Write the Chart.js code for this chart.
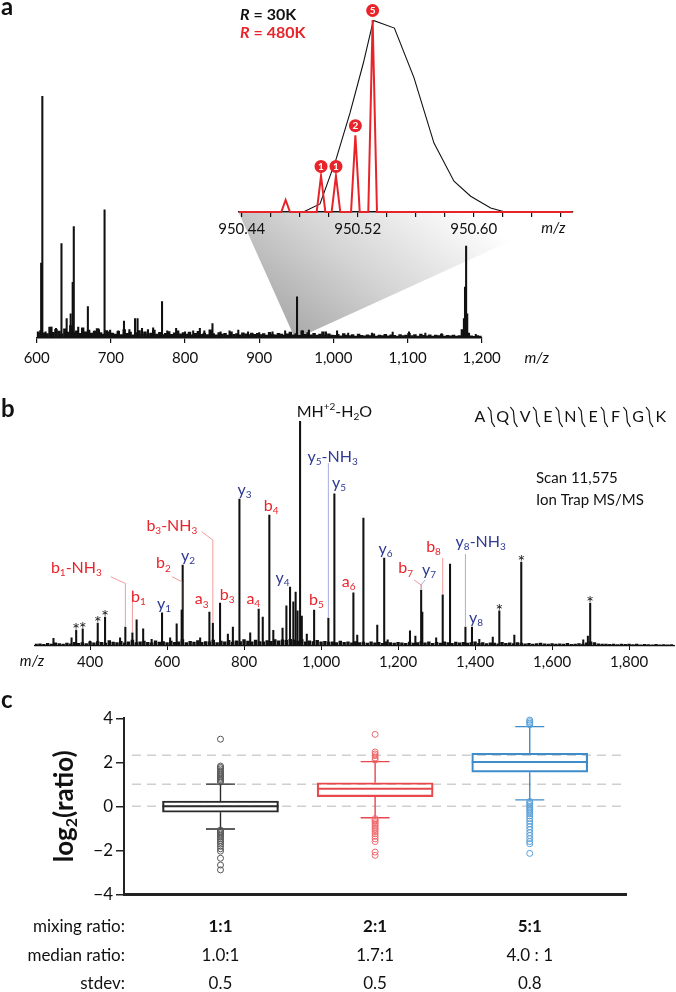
<!DOCTYPE html>
<html>
<head>
<meta charset="utf-8">
<script src="https://cdn.jsdelivr.net/npm/chart.js@4.4.1/dist/chart.umd.min.js"></script>
<style>
  body { margin: 0; background: #fff; width: 676px; height: 992px; position: relative; overflow: hidden; }
  .box { position: absolute; left: 0; }
  .tag { position: absolute; font: bold 24px Lato, sans-serif; line-height: 24px; color: #111; }
</style>
</head>
<body>
<div class="box" id="wrapA" style="top:0;width:676px;height:375px"><canvas id="specA"></canvas></div>
<div class="box" id="wrapI" style="left:200px;top:0;width:400px;height:240px"><canvas id="inset"></canvas></div>
<div class="box" id="wrapB" style="top:385px;width:676px;height:300px"><canvas id="msms"></canvas></div>
<div class="box" id="wrapC" style="top:680px;width:676px;height:312px"><canvas id="boxes"></canvas></div>
<div class="tag" style="left:1px;top:-6px">a</div>
<div class="tag" style="left:1px;top:396px">b</div>
<div class="tag" style="left:1px;top:687px">c</div>
<script>
// ---------- panel a: full scan ----------
const peaksA_mz = [606, 607.6, 612, 620, 626, 633.4, 640.4, 645.8, 648.5, 650, 656, 662, 669, 678, 684, 691.5, 699,
  710, 717.7, 725, 732.6, 736, 742, 750, 757, 769, 776, 788, 800, 811, 820, 826, 837, 848, 860, 871.8, 885, 900,
  918, 935, 951, 958, 967, 990, 1005, 1020, 1052, 1080, 1102, 1124, 1146, 1176, 1177.5, 1179, 1180.5, 1192];
const peaksA_int = [31, 100, 2.5, 4.5, 4, 39, 8, 10, 23, 46, 4.5, 3.5, 13, 3, 3.5, 53, 3.3,
  3, 7, 3.5, 8, 8, 4, 3.5, 4.2, 15, 3, 4, 2.5, 3, 4, 3, 6, 2.5, 3, 3.3, 2.5, 2.2,
  2.5, 3, 17, 3, 3.3, 2.5, 3, 2, 2, 2.4, 2.5, 2, 1.8, 8, 21, 38, 10, 1.5];

const grassA_mz = [602,606,610,614,618,622,626,630,634,638,642,646,650,654,658,662,666,670,674,678,682,686,690,694,698,
  702,706,710,714,718,722,726,730,734,738,742,746,750,754,758,762,766,770,774,778,782,786,790,794,798,
  802,806,810,814,818,822,826,830,834,838,842,846,850,854,858,862,866,870,874,878,882,886,890,894,898,
  902,906,910,914,918,922,926,930,934,938,942,946,950,954,958,962,966,970,974,978,982,986,990,994,998,
  1002,1006,1010,1014,1018,1022,1026,1030,1034,1038,1042,1046,1050,1054,1058,1062,1066,1070,1074,1078,1082,1086,1090,1094,1098,
  1102,1106,1110,1114,1118,1122,1126,1130,1134,1138,1142,1146,1150,1154,1158,1162,1166,1170,1174,1178,1182,1186,1190,1194,1198];
const grassA_int = [2.5,3.2,2.1,1.8,4.5,2.3,3.6,2.9,1.7,3.8,2.4,5.1,2.2,3.0,1.9,4.2,2.6,3.3,2.0,2.8,3.9,2.2,1.6,3.1,2.5,
  2.0,1.6,2.8,1.4,3.5,1.9,2.4,1.3,2.2,3.1,1.7,2.6,1.5,2.0,3.3,1.6,2.3,1.4,1.9,2.7,1.5,2.1,3.0,1.7,2.2,
  1.6,2.4,1.3,1.9,2.8,1.5,2.0,1.4,3.4,1.8,1.3,2.2,1.6,1.9,1.2,2.5,1.5,1.8,1.3,2.1,1.7,1.4,2.0,1.5,1.9,
  1.4,1.8,1.2,2.3,1.5,1.3,1.9,1.6,1.2,1.7,2.4,1.3,1.8,1.1,3.0,1.5,2.2,1.3,1.9,1.2,1.6,2.6,1.3,1.7,1.2,
  1.1,1.5,0.9,1.8,1.2,1.0,1.4,0.8,1.6,1.1,0.9,1.3,1.0,1.7,0.8,1.2,1.0,1.5,0.9,1.3,1.1,0.8,1.4,1.0,1.2,
  1.9,1.0,1.4,0.8,1.6,1.1,0.9,1.3,0.8,1.2,1.0,1.5,0.8,1.1,0.9,1.2,0.8,1.0,3.5,5.0,2.0,0.9,0.7,1.0,0.8];
const zoomWindow = [948, 952];

// ---------- panel a inset ----------
const redMz = [950.4703, 950.4947, 950.505, 950.5184, 950.5303];
const redInt = [6.3, 18.8, 18.8, 40, 100];
const redLabels = ['', '1', '1', '2', '5'];
const profileMz = [950.4825, 950.494, 950.505, 950.5147, 950.5239, 950.5308, 950.5453, 950.5588, 950.5726, 950.5864, 950.5979, 950.6117, 950.6217];
const profileInt = [0, 4.2, 27.3, 51.6, 77.6, 99.8, 95.8, 70, 35.9, 16, 8.2, 2.1, 0];
const insetTicks = [950.44, 950.46, 950.48, 950.50, 950.52, 950.54, 950.56, 950.58, 950.60, 950.62, 950.64, 950.66];
const insetTickLabels = [950.44, 950.52, 950.60];

// ---------- panel b: MS/MS ----------
const peaksB_mz = [305, 352, 364, 381, 400, 420, 439, 478, 491.7, 510, 521, 538, 560, 587, 608, 625, 638, 640.6, 686,
  710, 719, 737.7, 758, 771, 788, 816, 838, 848.6, 865.7, 876, 900, 910, 919.5, 928, 934, 939, 945.5, 950, 963, 982,
  1019, 1034.6, 1084, 1094, 1110, 1146, 1164, 1173, 1231, 1245, 1260, 1263, 1299, 1316, 1335, 1375, 1392, 1411,
  1446, 1463, 1502, 1520, 1681, 1693, 1699];
const peaksB_int = [3.4, 3.6, 7.1, 7.6, 2.2, 10.2, 12.9, 3.6, 8.4, 5.8, 11.6, 7.6, 3, 14.7, 3.6, 9.8, 16, 36, 3.6,
  15.1, 10.2, 19.1, 5.3, 8.4, 65.3, 5.8, 16.4, 12.9, 58.2, 7, 8, 17.8, 26.2, 19.6, 24, 15.6, 100, 13.3, 5.3, 16,
  12.4, 67.6, 23.6, 4.9, 56.9, 9.3, 39.1, 2.7, 6.7, 4.4, 24.9, 15.1, 3.6, 22.7, 36.4, 8.4, 8.4, 3,
  4, 15.6, 4.9, 37.3, 2.7, 4.4, 19.1];
const grassB_mz = [260,270,280,290,300,310,320,330,340,350,360,370,380,390,400,
  410,420,430,440,450,460,470,480,490,500,510,520,530,540,550,560,570,580,590,600,
  610,620,630,640,650,660,670,680,690,700,710,720,730,740,750,760,770,780,790,800,
  810,820,830,840,850,860,870,880,890,900,910,920,930,940,950,960,970,980,990,1000,
  1010,1020,1030,1040,1050,1060,1070,1080,1090,1100,1110,1120,1130,1140,1150,1160,1170,1180,1190,1200,
  1210,1220,1230,1240,1250,1260,1270,1280,1290,1300,1310,1320,1330,1340,1350,1360,1370,1380,1390,1400,
  1410,1420,1430,1440,1450,1460,1470,1480,1490,1500,1510,1520,1530,1540,1550,1560,1570,1580,1590,1600,
  1610,1620,1630,1640,1650,1660,1670,1680,1690,1700,1710,1720,1730,1740,1750,1760,1770,1780,1790,1800,
  1810,1820,1830,1840,1850,1860,1870,1880,1890,1900,1910];
const grassB_int = [0.8,1.0,0.7,1.2,0.9,1.4,1.1,0.8,1.3,1.0,1.6,1.2,1.5,1.1,1.8,
  1.4,2.0,1.6,1.3,2.4,1.7,1.5,2.1,1.4,1.9,2.6,1.5,1.8,2.2,1.6,1.4,2.3,1.7,2.0,1.5,
  2.2,1.6,1.9,2.8,1.5,2.1,1.7,2.4,1.6,2.0,1.8,2.6,1.5,2.2,1.9,2.5,1.7,2.3,2.0,2.8,
  2.2,1.9,2.6,2.0,1.8,2.4,2.1,2.9,2.3,2.7,2.5,3.0,2.6,2.2,2.8,1.9,2.3,2.0,2.5,1.8,
  2.1,1.7,1.9,1.5,2.2,1.6,1.8,1.4,2.0,1.5,1.7,1.3,1.9,1.4,1.6,1.2,1.8,1.5,1.3,1.6,
  1.4,1.2,1.7,1.3,1.5,2.0,1.4,1.8,1.2,1.6,1.3,1.9,1.5,1.2,1.7,1.4,1.6,1.3,1.5,1.8,
  1.2,1.5,1.1,1.4,1.3,1.0,1.6,1.2,1.4,1.1,1.5,1.3,1.0,1.2,0.9,1.1,1.3,1.0,0.8,1.1,
  0.9,1.0,0.8,1.2,0.7,0.9,1.1,0.8,1.4,1.9,1.5,1.0,0.8,0.9,0.7,0.8,0.6,0.9,0.7,0.8,
  0.6,0.8,0.5,0.7,0.6,0.5,0.7,0.5,0.6,0.5,0.6];
const tickB = [400, 600, 800, 1000, 1200, 1400, 1600, 1800];
const starMz = [364, 381, 420, 439, 1463, 1520, 1699];
const ionLabels = [
  { t: 'b_1-NH_3', c: 'b', mz: 491.7 }, { t: 'b_1', c: 'b', mz: 510 }, { t: 'y_1', c: 'y', mz: 587 },
  { t: 'b_2', c: 'b', mz: 638 }, { t: 'y_2', c: 'y', mz: 640.6 }, { t: 'a_3', c: 'b', mz: 710 },
  { t: 'b_3-NH_3', c: 'b', mz: 719 }, { t: 'b_3', c: 'b', mz: 737.7 }, { t: 'y_3', c: 'y', mz: 788 },
  { t: 'a_4', c: 'b', mz: 838 }, { t: 'b_4', c: 'b', mz: 865.7 }, { t: 'y_4', c: 'y', mz: 919.5 },
  { t: 'MH^{+2}-H_2O', c: 'k', mz: 945.5 }, { t: 'b_5', c: 'b', mz: 982 }, { t: 'y_5-NH_3', c: 'y', mz: 1019 },
  { t: 'y_5', c: 'y', mz: 1034.6 }, { t: 'a_6', c: 'b', mz: 1084 }, { t: 'y_6', c: 'y', mz: 1164 },
  { t: 'b_7', c: 'b', mz: 1260 }, { t: 'y_7', c: 'y', mz: 1260 }, { t: 'b_8', c: 'b', mz: 1316 },
  { t: 'y_8-NH_3', c: 'y', mz: 1375 }, { t: 'y_8', c: 'y', mz: 1392 }
];
const sequence = ['A', 'Q', 'V', 'E', 'N', 'E', 'F', 'G', 'K'];
const scanText = ['Scan 11,575', 'Ion Trap MS/MS'];

// ---------- panel c: box plots ----------
const groups = ['1:1', '2:1', '5:1'];
const boxQ1 = [-0.27, 0.44, 1.55];
const boxMedian = [0, 0.8, 2.01];
const boxQ3 = [0.24, 1.07, 2.41];
const whiskerLow = [-1.03, -0.52, 0.29];
const whiskerHigh = [1.01, 2.03, 3.62];
const outliers1 = [3.05, 1.83, 1.77, 1.7, 1.62, 1.55, 1.48, 1.42, 1.35, 1.28, 1.22, 1.16, 1.1,
  -1.08, -1.14, -1.2, -1.26, -1.33, -1.4, -1.47, -1.55, -1.63, -1.72, -1.82, -1.93, -2.04, -2.36, -2.67, -2.89];
const outliers2 = [3.27, 2.47, 2.38, 2.3, 2.2, 2.1, -0.56, -0.62, -0.68, -0.75, -0.82, -0.9, -0.98, -1.06,
  -1.15, -1.25, -1.36, -1.48, -1.6, -2.08, -2.23];
const outliers3 = [3.92, 3.85, 3.78, 3.71, 0.22, 0.15, 0.08, 0.0, -0.08, -0.16, -0.25, -0.34, -0.44, -0.55,
  -0.67, -0.8, -0.93, -1.06, -1.2, -1.33, -1.47, -1.6, -1.7, -2.14];
const refLines = [0, 1, 2.32];
const medianRatios = ['1.0:1', '1.7:1', '4.0 : 1'];
const stdevs = ['0.5', '0.5', '0.8'];
const rowLabels = ['mixing ratio:', 'median ratio:', 'stdev:'];

// ---------- styling ----------
const FONT = "Lato, 'Open Sans', sans-serif";
const RED = '#e8242b';
const INK = { b: '#e8242b', y: '#2e3a93', k: '#111' };
const LEAD = { b: '#f39b9b', y: '#a7addb', k: '#999' };
const BOXCOL = ['#2a2a2a', '#e8474c', '#3f8ccb'];
const DOTCOL = ['#555', '#ee6a6e', '#5a9fd6'];

Chart.defaults.font.family = FONT;
Chart.defaults.color = '#111';

function baseOptions(padding) {
  return {
    responsive: true, maintainAspectRatio: false, animation: false, devicePixelRatio: 1, events: [],
    layout: { padding: padding },
    plugins: { legend: { display: false }, tooltip: { enabled: false } }
  };
}
function pairs(xs, ys) { return xs.map((x, i) => ({ x: x, y: ys[i] })); }

// tiny rich text: _x subscript, ^{..} superscript
function parseRich(s) {
  const segs = []; let buf = '', i = 0;
  while (i < s.length) {
    const ch = s[i];
    if (ch === '_' || ch === '^') {
      if (buf) { segs.push({ t: buf, k: 0 }); buf = ''; }
      let t;
      if (s[i + 1] === '{') { const j = s.indexOf('}', i); t = s.slice(i + 2, j); i = j + 1; }
      else { t = s[i + 1]; i += 2; }
      segs.push({ t: t, k: ch === '_' ? 1 : -1 });
    } else { buf += ch; i++; }
  }
  if (buf) segs.push({ t: buf, k: 0 });
  return segs;
}
function drawRich(ctx, s, x, y, size, align, weight) {
  const segs = parseRich(s), small = Math.round(size * 0.64), w0 = weight || '';
  let w = 0;
  segs.forEach(g => { ctx.font = w0 + ' ' + (g.k ? small : size) + 'px ' + FONT; g.w = ctx.measureText(g.t).width; w += g.w; });
  let cx = align === 'left' ? x : x - w / 2;
  ctx.textAlign = 'left'; ctx.textBaseline = 'middle';
  segs.forEach(g => {
    ctx.font = w0 + ' ' + (g.k ? small : size) + 'px ' + FONT;
    ctx.fillText(g.t, cx, y + (g.k === 1 ? size * 0.32 : g.k === -1 ? -size * 0.3 : 0));
    cx += g.w;
  });
}

// ---------- inset chart ----------
const RED_HALF_WIDTH = 0.003;
const redTrace = [{ x: 950.438, y: 0 }];
redMz.forEach((m, i) => {
  redTrace.push({ x: m - RED_HALF_WIDTH, y: 0 }, { x: m, y: redInt[i] }, { x: m + RED_HALF_WIDTH, y: 0 });
});
redTrace.push({ x: 950.668, y: 0 });

const insetNotes = {
  id: 'insetNotes',
  afterDatasetsDraw(chart) {
    const ctx = chart.ctx, xs = chart.scales.x, ys = chart.scales.y;
    ctx.save();
    redMz.forEach((m, i) => {
      if (!redLabels[i]) return;
      const x = xs.getPixelForValue(m), y = ys.getPixelForValue(redInt[i]) - 9.5;
      ctx.fillStyle = RED;
      ctx.beginPath(); ctx.arc(x, y, 6.5, 0, Math.PI * 2); ctx.fill();
      ctx.fillStyle = '#fff'; ctx.font = 'bold 10px ' + FONT;
      ctx.textAlign = 'center'; ctx.textBaseline = 'middle';
      ctx.fillText(redLabels[i], x, y + 0.5);
    });
    // resolution legend
    [['30K', '#111', 15], ['480K', RED, 33]].forEach(([v, col, y]) => {
      ctx.fillStyle = col; ctx.textAlign = 'left'; ctx.textBaseline = 'middle';
      ctx.font = 'italic bold 16px ' + FONT;
      ctx.fillText('R', 40, y);
      const w = ctx.measureText('R').width;
      ctx.font = 'bold 16px ' + FONT;
      ctx.fillText(' = ' + v, 40 + w, y);
    });
    ctx.fillStyle = '#111'; ctx.font = 'italic 15px ' + FONT;
    ctx.textAlign = 'center'; ctx.textBaseline = 'middle';
    ctx.fillText('m/z', xs.right - 19, chart.chartArea.bottom + 16);
    ctx.restore();
  }
};

const insetOpts = baseOptions({ left: 38.8, right: 27.7, top: 20, bottom: 4 });
insetOpts.scales = {
  x: {
    type: 'linear', min: 950.438, max: 950.668,
    afterBuildTicks: s => { s.ticks = insetTicks.map(v => ({ value: v })); },
    afterFit: s => { s.height = 24; },
    ticks: {
      autoSkip: false, maxRotation: 0, padding: 3, font: { size: 15 }, color: '#111',
      callback: v => insetTickLabels.some(l => Math.abs(l - v) < 1e-6) ? v.toFixed(2) : ''
    },
    grid: { drawOnChartArea: false, drawTicks: true, tickLength: 5, color: '#111', lineWidth: 1.2 },
    border: { display: true, color: '#111', width: 1.5 }
  },
  y: { display: false, min: 0, max: 100 }
};
const insetChart = new Chart(document.getElementById('inset'), {
  type: 'line',
  data: {
    datasets: [
      { data: redTrace, borderColor: RED, borderWidth: 2, pointRadius: 0, tension: 0, clip: false },
      { data: pairs(profileMz, profileInt), borderColor: '#111', borderWidth: 1.1, pointRadius: 0, tension: 0 }
    ]
  },
  options: insetOpts,
  plugins: [insetNotes]
});

// ---------- main spectrum (a) ----------
const wedge = {
  id: 'wedge',
  beforeDatasetsDraw(chart) {
    const ctx = chart.ctx, xs = chart.scales.x, ys = chart.scales.y;
    const ix = insetChart.scales.x;
    const wrapA = document.getElementById('wrapA'), wrapI = document.getElementById('wrapI');
    const dx = wrapI.offsetLeft - wrapA.offsetLeft, dy = wrapI.offsetTop - wrapA.offsetTop;
    const topY = dy + insetChart.chartArea.bottom + 1;
    const l = dx + ix.getPixelForValue(ix.min), r = dx + ix.getPixelForValue(ix.max);
    const b0 = xs.getPixelForValue(zoomWindow[0]), b1 = xs.getPixelForValue(zoomWindow[1]);
    const by = ys.getPixelForValue(0);
    const g = ctx.createLinearGradient(b0, by, b0 + 130, topY - 40);
    g.addColorStop(0, '#a9a9a9');
    g.addColorStop(0.45, '#d4d4d4');
    g.addColorStop(1, '#ffffff');
    ctx.save();
    ctx.fillStyle = g;
    ctx.beginPath();
    ctx.moveTo(l, topY); ctx.lineTo(r, topY); ctx.lineTo(b1, by); ctx.lineTo(b0, by);
    ctx.closePath(); ctx.fill();
    ctx.restore();
  },
  afterDraw(chart) {
    const ctx = chart.ctx;
    ctx.save();
    ctx.fillStyle = '#111'; ctx.font = 'italic 15px ' + FONT;
    ctx.textAlign = 'center'; ctx.textBaseline = 'middle';
    ctx.fillText('m/z', chart.scales.x.right + 55, chart.chartArea.bottom + 20);
    ctx.restore();
  }
};
const specOpts = baseOptions({ left: 36.7, right: 194.3, top: 96, bottom: 7 });
specOpts.scales = {
  x: {
    type: 'linear', min: 600, max: 1200, offset: false,
    afterFit: s => { s.height = 30; },
    ticks: { stepSize: 100, padding: 6, autoSkip: false, maxRotation: 0, font: { size: 15 }, color: '#111',
      callback: v => v.toLocaleString('en-US') },
    grid: { offset: false, drawOnChartArea: false, drawTicks: true, tickLength: 5, color: '#111', lineWidth: 1.2 },
    border: { display: true, color: '#111', width: 1.5 }
  },
  y: { display: false, min: 0, max: 100 }
};
new Chart(document.getElementById('specA'), {
  type: 'bar',
  data: {
    datasets: [
      { data: pairs(grassA_mz, grassA_int), backgroundColor: '#111', barThickness: 2.8, grouped: false },
      { data: pairs(peaksA_mz, peaksA_int), backgroundColor: '#111', barThickness: 1.4, grouped: false }
    ]
  },
  options: specOpts,
  plugins: [wedge]
});

// ---------- MS/MS spectrum (b) ----------
// label centre offsets from the peak top (px) and leader paths
const ionLayout = [
  { dx: -49, dy: -59, lead: [[-14.6, -50.3], [0, -43.7]] },
  { dx: 6, dy: -36, lead: [[0, -43]] },
  { dx: 2, dy: -9 },
  { dx: -18.3, dy: -46.7, lead: [[-9.6, -33.3], [0, -28.3]] },
  { dx: 5.3, dy: -9 },
  { dx: -7.7, dy: -12.7 },
  { dx: -41, dy: -97, lead: [[-11.1, -91.3], [0, -83]] },
  { dx: 7, dy: -8 },
  { dx: 5.2, dy: -9 },
  { dx: -5.4, dy: -10 },
  { dx: 1.7, dy: -9 },
  { dx: -7.5, dy: -9 },
  { dx: -3.4, dy: -9, align: 'left' },
  { dx: 2.2, dy: -10 },
  { dx: 4.3, dy: -161.3, lead: [[0, -155]] },
  { dx: 4.7, dy: -11 },
  { dx: -4.8, dy: -11.3 },
  { dx: 1.3, dy: -9 },
  { dx: -15.5, dy: -21.7, lead: [[-7.1, -10], [0, -5]] },
  { dx: 7.9, dy: -20, lead: [[3.9, -10], [0, -5]] },
  { dx: -9.2, dy: -48.3, lead: [[0, -37]] },
  { dx: 15.3, dy: -85.3, lead: [[0, -73]] },
  { dx: 4, dy: -9 }
];
const msmsNotes = {
  id: 'msmsNotes',
  afterDatasetsDraw(chart) {
    const ctx = chart.ctx, xs = chart.scales.x, ys = chart.scales.y;
    const peakAt = mz => {
      const i = peaksB_mz.indexOf(mz);
      return { x: xs.getPixelForValue(mz), y: ys.getPixelForValue(peaksB_int[i]) };
    };
    ctx.save();
    ctx.lineWidth = 1;
    ionLabels.forEach((lab, i) => {
      const L = ionLayout[i];
      if (!L.lead) return;
      const p = peakAt(lab.mz);
      ctx.strokeStyle = LEAD[lab.c];
      ctx.beginPath();
      ctx.moveTo(p.x + L.lead[0][0], p.y + L.lead[0][1]);
      L.lead.slice(1).forEach(q => ctx.lineTo(p.x + q[0], p.y + q[1]));
      ctx.lineTo(p.x, p.y - 1);
      ctx.stroke();
    });
    ionLabels.forEach((lab, i) => {
      const L = ionLayout[i], p = peakAt(lab.mz);
      ctx.fillStyle = INK[lab.c];
      drawRich(ctx, lab.t, p.x + L.dx, p.y + L.dy, 16, L.align || 'center');
    });
    // asterisks
    ctx.fillStyle = '#111'; ctx.font = '18px ' + FONT;
    ctx.textAlign = 'center'; ctx.textBaseline = 'alphabetic';
    starMz.forEach(m => { const p = peakAt(m); ctx.fillText('*', p.x, p.y + 6); });
    // m/z on the left
    ctx.font = 'italic 15px ' + FONT; ctx.textBaseline = 'middle';
    ctx.fillText('m/z', 32, chart.chartArea.bottom + 15);
    // peptide sequence with fragment marks
    const sx0 = 480, sStep = 22.6, sy = 417 - 385;
    ctx.font = '16px ' + FONT; ctx.fillStyle = '#111';
    sequence.forEach((a, k) => ctx.fillText(a, sx0 + k * sStep, sy));
    ctx.strokeStyle = '#111'; ctx.lineWidth = 1.2;
    for (let k = 0; k < sequence.length - 1; k++) {
      const mx = sx0 + (k + 0.5) * sStep;
      ctx.beginPath();
      ctx.moveTo(mx - 3.5, sy - 10); ctx.lineTo(mx - 0.5, sy - 6);
      ctx.lineTo(mx + 0.5, sy + 5); ctx.lineTo(mx + 3.5, sy + 10);
      ctx.stroke();
    }
    ctx.textAlign = 'left'; ctx.font = '15px ' + FONT;
    ctx.fillText(scanText[0], 536, 478 - 385);
    ctx.fillText(scanText[1], 536, 500 - 385);
    ctx.restore();
  }
};
const msmsOpts = baseOptions({ left: 34.6, right: 1.5, top: 36, bottom: 11 });
msmsOpts.scales = {
  x: {
    type: 'linear', min: 256, max: 1918, offset: false,
    afterBuildTicks: s => { s.ticks = tickB.map(v => ({ value: v })); },
    afterFit: s => { s.height = 28; },
    ticks: { autoSkip: false, maxRotation: 0, padding: 3, font: { size: 15 }, color: '#111',
      callback: v => v.toLocaleString('en-US') },
    grid: { offset: false, drawOnChartArea: false, drawTicks: true, tickLength: 4, color: '#111', lineWidth: 1 },
    border: { display: true, color: '#111', width: 1.2 }
  },
  y: { display: false, min: 0, max: 100 }
};
new Chart(document.getElementById('msms'), {
  type: 'bar',
  data: {
    datasets: [
      { data: pairs(grassB_mz, grassB_int), backgroundColor: '#111', barThickness: 2.8, grouped: false },
      { data: pairs(peaksB_mz, peaksB_int), backgroundColor: '#111', barThickness: 1.4, grouped: false }
    ]
  },
  options: msmsOpts,
  plugins: [msmsNotes]
});

// ---------- box plots (c) ----------
const boxParts = {
  id: 'boxParts',
  beforeDatasetsDraw(chart) {
    const ctx = chart.ctx, xs = chart.scales.x, ys = chart.scales.y, a = chart.chartArea;
    ctx.save();
    ctx.strokeStyle = '#cfcfcf'; ctx.lineWidth = 1.5; ctx.setLineDash([9, 6]);
    refLines.forEach(v => {
      const y = ys.getPixelForValue(v);
      ctx.beginPath(); ctx.moveTo(a.left + 8, y); ctx.lineTo(a.right, y); ctx.stroke();
    });
    ctx.setLineDash([]);
    groups.forEach((g, i) => {
      const x = xs.getPixelForValue(i + 1);
      ctx.strokeStyle = BOXCOL[i]; ctx.lineWidth = 1.4;
      ctx.beginPath();
      ctx.moveTo(x, ys.getPixelForValue(boxQ3[i])); ctx.lineTo(x, ys.getPixelForValue(whiskerHigh[i]));
      ctx.moveTo(x, ys.getPixelForValue(boxQ1[i])); ctx.lineTo(x, ys.getPixelForValue(whiskerLow[i]));
      [whiskerHigh[i], whiskerLow[i]].forEach(v => {
        const y = ys.getPixelForValue(v);
        ctx.moveTo(x - 14.5, y); ctx.lineTo(x + 14.5, y);
      });
      ctx.stroke();
    });
    ctx.restore();
  },
  afterDatasetsDraw(chart) {
    const ctx = chart.ctx, xs = chart.scales.x, ys = chart.scales.y;
    ctx.save();
    groups.forEach((g, i) => {
      const x = xs.getPixelForValue(i + 1), y = ys.getPixelForValue(boxMedian[i]);
      ctx.strokeStyle = BOXCOL[i]; ctx.lineWidth = 2;
      ctx.beginPath(); ctx.moveTo(x - 58, y); ctx.lineTo(x + 58, y); ctx.stroke();
    });
    ctx.restore();
  },
  afterDraw(chart) {
    const ctx = chart.ctx, xs = chart.scales.x, a = chart.chartArea;
    ctx.save();
    // y title with subscript, rotated
    ctx.translate(65, (a.top + a.bottom) / 2);
    ctx.rotate(-Math.PI / 2);
    ctx.fillStyle = '#111';
    const parts = [['log', 26, 0], ['2', 16, 7], ['(ratio)', 26, 0]];
    let w = 0;
    parts.forEach(p => { ctx.font = 'bold ' + p[1] + 'px ' + FONT; w += ctx.measureText(p[0]).width; });
    let cx = -w / 2;
    ctx.textBaseline = 'middle'; ctx.textAlign = 'left';
    parts.forEach(p => {
      ctx.font = 'bold ' + p[1] + 'px ' + FONT;
      ctx.fillText(p[0], cx, p[2]);
      cx += ctx.measureText(p[0]).width;
    });
    ctx.restore();
    // summary table under the plot
    ctx.save();
    ctx.fillStyle = '#111'; ctx.textBaseline = 'middle';
    const rowsY = [246.7, 276, 304];
    const rows = [groups, medianRatios, stdevs];
    rowLabels.forEach((lab, r) => {
      ctx.font = '17px ' + FONT; ctx.textAlign = 'right';
      ctx.fillText(lab, 125, rowsY[r]);
      ctx.textAlign = 'center';
      ctx.font = (r === 0 ? 'bold ' : '') + '17px ' + FONT;
      rows[r].forEach((v, i) => ctx.fillText(v, xs.getPixelForValue(i + 1), rowsY[r]));
    });
    ctx.restore();
  }
};
const boxOpts = baseOptions({ left: 94, right: 49.3, top: 38.3, bottom: 97.7 });
boxOpts.scales = {
  x: {
    type: 'linear', min: 0.376, max: 3.627, offset: false,
    afterFit: s => { s.height = 0; },
    ticks: { display: false },
    grid: { display: false, offset: false },
    border: { display: true, color: '#222', width: 3 }
  },
  y: {
    min: -4, max: 4,
    afterFit: s => { s.width = 30; },
    ticks: { stepSize: 1, padding: 3, font: { size: 17 }, color: '#111',
      callback: v => v % 2 === 0 ? (v < 0 ? '\u2212' + (-v) : String(v)) : '' },
    grid: { drawOnChartArea: false, drawTicks: true, tickLength: 8, color: '#222', lineWidth: 1.5 },
    border: { display: true, color: '#222', width: 2 }
  }
};
const outlierSets = [outliers1, outliers2, outliers3].map((arr, i) => ({
  type: 'scatter', data: arr.map(v => ({ x: i + 1, y: v })), pointRadius: 3, pointBorderWidth: 1,
  pointBackgroundColor: 'rgba(255,255,255,0)', pointBorderColor: DOTCOL[i], clip: false
}));
new Chart(document.getElementById('boxes'), {
  type: 'bar',
  data: {
    datasets: [
      { data: groups.map((g, i) => ({ x: i + 1, y: [boxQ1[i], boxQ3[i]] })), backgroundColor: 'rgba(255,255,255,0)',
        borderColor: BOXCOL, borderWidth: 1.5, borderSkipped: false, barThickness: 116, grouped: false }
    ].concat(outlierSets)
  },
  options: boxOpts,
  plugins: [boxParts]
});
</script>
</body>
</html>
